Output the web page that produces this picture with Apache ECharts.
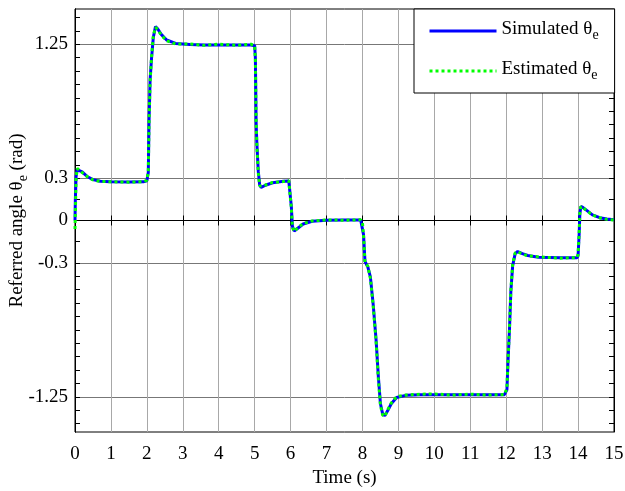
<!DOCTYPE html>
<html><head><meta charset="utf-8">
<script src="https://cdn.jsdelivr.net/npm/echarts@6/dist/echarts.min.js"></script>
<style>html,body{margin:0;padding:0;background:#fff}#c{width:625px;height:491px}</style>
</head><body><div id="c"></div>
<script>
const time = [0, 0.01, 0.03, 0.06, 0.1, 0.2, 0.35, 0.5, 0.7, 1.0, 1.5, 1.9, 2.0, 2.04, 2.06, 2.09, 2.13, 2.18, 2.24, 2.3, 2.4, 2.55, 2.8, 3.2, 3.6, 4.0, 4.5, 4.9, 5.0, 5.02, 5.04, 5.06, 5.1, 5.14, 5.18, 5.3, 5.5, 5.8, 5.95, 6.0, 6.02, 6.05, 6.1, 6.2, 6.35, 6.6, 7.0, 7.5, 7.95, 8.0, 8.03, 8.07, 8.15, 8.22, 8.3, 8.38, 8.44, 8.5, 8.56, 8.62, 8.7, 8.8, 8.95, 9.2, 9.6, 10, 10.5, 11, 11.5, 11.95, 12.02, 12.05, 12.09, 12.13, 12.18, 12.25, 12.32, 12.45, 12.6, 12.9, 13.5, 13.97, 14.0, 14.03, 14.05, 14.08, 14.15, 14.25, 14.4, 14.6, 14.8, 15.0];
const simulated = [0, 0.15, 0.31, 0.36, 0.37, 0.345, 0.31, 0.29, 0.278, 0.274, 0.273, 0.274, 0.282, 0.34, 0.7, 1.0, 1.15, 1.3, 1.375, 1.36, 1.32, 1.28, 1.256, 1.248, 1.245, 1.245, 1.245, 1.245, 1.24, 1.15, 0.7, 0.55, 0.35, 0.25, 0.235, 0.25, 0.268, 0.278, 0.28, 0.27, 0.1, -0.04, -0.075, -0.055, -0.025, -0.005, 0.002, 0.004, 0.003, -0.01, -0.1, -0.29, -0.33, -0.4, -0.6, -0.85, -1.1, -1.3, -1.37, -1.385, -1.35, -1.3, -1.255, -1.24, -1.236, -1.235, -1.235, -1.235, -1.235, -1.235, -1.2, -1.0, -0.78, -0.5, -0.32, -0.235, -0.22, -0.235, -0.248, -0.26, -0.265, -0.265, -0.25, -0.1, 0.05, 0.1, 0.09, 0.07, 0.04, 0.02, 0.01, 0.005];
const estimated = [-0.06, 0.05, 0.3, 0.37, 0.37, 0.34, 0.31, 0.288, 0.277, 0.275, 0.272, 0.275, 0.285, 0.35, 0.68, 0.98, 1.16, 1.31, 1.37, 1.355, 1.315, 1.275, 1.252, 1.252, 1.242, 1.25, 1.243, 1.25, 1.24, 1.14, 0.72, 0.54, 0.34, 0.245, 0.232, 0.252, 0.27, 0.276, 0.282, 0.268, 0.09, -0.05, -0.078, -0.05, -0.022, -0.003, 0.004, 0.002, 0.005, -0.015, -0.11, -0.3, -0.325, -0.41, -0.61, -0.86, -1.12, -1.31, -1.38, -1.39, -1.345, -1.295, -1.25, -1.238, -1.232, -1.23, -1.238, -1.232, -1.238, -1.234, -1.19, -0.99, -0.77, -0.49, -0.31, -0.23, -0.222, -0.238, -0.25, -0.258, -0.267, -0.263, -0.24, -0.09, 0.06, 0.1, 0.088, 0.068, 0.038, 0.02, 0.008, 0.004];
const seriesNames = ['Simulated', 'Estimated'];
const xTickValues = [0,1,2,3,4,5,6,7,8,9,10,11,12,13,14,15];
const yLabelValues = [-1.25, -0.3, 0, 0.3, 1.25];
const yMinorValues = [1.44, 1.345, 1.25, 1.155, 1.06, 0.965, 0.87, 0.775, 0.68, 0.585, 0.49, 0.395, 0.3, 0.15, 0, -0.15, -0.3, -0.395, -0.49, -0.585, -0.68, -0.775, -0.87, -0.965, -1.06, -1.155, -1.25, -1.345, -1.44];

const F = '"Liberation Serif", "Times New Roman", serif';
const rich = {
  m: { fontSize: 19, fontFamily: F, color: '#000', verticalAlign: 'top', lineHeight: 22 },
  s: { fontSize: 14, fontFamily: F, color: '#000', verticalAlign: 'bottom', lineHeight: 16, padding: [12, 0, 0, 0] }
};
const chart = echarts.init(document.getElementById('c'), null, { renderer: 'canvas' });
const pairs = arr => time.map((t, i) => [t, arr[i]]);
const yBase = { type: 'value', min: -1.5, max: 1.5, gridIndex: 0 };
chart.setOption({
  animation: false,
  backgroundColor: '#fff',
  grid: { left: 75, right: 11, top: 9, bottom: 59, containLabel: false, outerBoundsMode: 'none',
    show: true, borderColor: '#000', borderWidth: 1, backgroundColor: '#fff' },
  legend: {
    orient: 'vertical', left: 414, top: 9,
    itemWidth: 67, itemHeight: 14, itemGap: 14,
    padding: [7, 16, 11, 14],
    backgroundColor: '#fff', borderColor: '#000', borderWidth: 1, borderRadius: 0,
    lineStyle: { width: 3 },
    itemStyle: { opacity: 0, color: 'rgba(0,0,0,0)', borderWidth: 0 },
    data: seriesNames,
    formatter: n => '{m|' + n + ' θ}{s|e}',
    textStyle: { rich: rich }
  },
  xAxis: [
    { type: 'value', min: 0, max: 15, interval: 1, position: 'bottom',
      name: 'Time (s)', nameLocation: 'middle', nameGap: 35,
      nameTextStyle: { fontSize: 19, fontFamily: F, color: '#000' },
      axisLine: { show: true, lineStyle: { color: '#000', width: 1 } },
      axisTick: { show: true, inside: true, length: 5, lineStyle: { color: '#000' } },
      axisLabel: { fontSize: 19, fontFamily: F, color: '#000', margin: 13 },
      splitLine: { show: true, lineStyle: { color: '#a8a8a8', width: 1 } } },
    { type: 'value', min: 0, max: 15, interval: 1, position: 'top',
      axisLine: { show: true, lineStyle: { color: '#000', width: 1 } },
      axisTick: { show: true, inside: true, length: 5, lineStyle: { color: '#000' } },
      axisLabel: { show: false }, splitLine: { show: false } }
  ],
  yAxis: [
    Object.assign({}, yBase, { position: 'left',
      name: '{m|Referred angle θ}{s|e}{m| (rad)}', nameLocation: 'middle', nameGap: 45,
      nameMoveOverlap: false,
      nameTextStyle: { rich: rich },
      axisLine: { show: true, lineStyle: { color: '#000', width: 1 } },
      axisTick: { show: true, inside: true, length: 5, customValues: yLabelValues, lineStyle: { color: '#000' } },
      axisLabel: { fontSize: 19, fontFamily: F, color: '#000', margin: 7, customValues: yLabelValues },
      splitLine: { show: true, lineStyle: { color: '#777', width: 1 } } }),
    Object.assign({}, yBase, { position: 'left', offset: 0,
      axisLine: { show: true, lineStyle: { color: '#000', width: 1 } },
      axisTick: { show: true, inside: true, length: 5, customValues: yMinorValues, lineStyle: { color: '#000' } },
      axisLabel: { show: false }, splitLine: { show: false } }),
    Object.assign({}, yBase, { position: 'right',
      axisLine: { show: true, lineStyle: { color: '#000', width: 1 } },
      axisTick: { show: true, inside: true, length: 5, customValues: yMinorValues, lineStyle: { color: '#000' } },
      axisLabel: { show: false }, splitLine: { show: false } })
  ],
  series: [
    { name: seriesNames[0], type: 'line', xAxisIndex: 0, yAxisIndex: 0, data: pairs(simulated),
      symbol: 'none', showSymbol: false, lineStyle: { color: '#0000ff', width: 3, type: 'solid' }, itemStyle: { color: '#0000ff' }, z: 3 },
    { name: seriesNames[1], type: 'line', xAxisIndex: 0, yAxisIndex: 0, data: pairs(estimated),
      symbol: 'none', showSymbol: false, lineStyle: { color: '#00ff00', width: 3, type: 'dotted' }, itemStyle: { color: '#00ff00' }, z: 4 }
  ]
});
</script></body></html>
